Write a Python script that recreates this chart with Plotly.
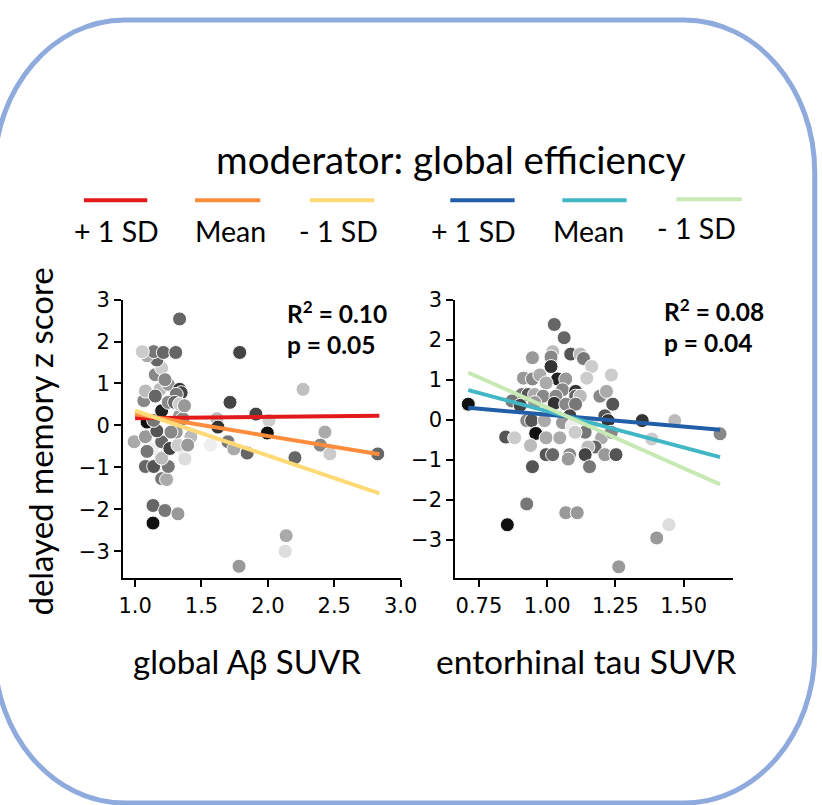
import plotly.graph_objects as go

# ---------------- data ----------------
# left panel: global Abeta SUVR vs delayed memory z score
left_x = [1.335, 1.788, 2.265, 1.715, 1.91, 2.008, 1.617, 1.624, 1.996, 1.568, 1.70, 1.744, 1.844,
          2.43, 2.395, 2.468, 2.204, 2.828, 2.138, 2.131, 1.783, 1.135, 1.225, 1.323, 1.135, 1.20,
          1.237, 1.078, 1.14, 1.25, 1.20, 1.372, 0.993, 1.078, 1.127, 1.09, 1.20, 1.262, 1.323, 1.31,
          1.164, 1.42, 1.396, 1.09, 1.14, 1.20, 1.335, 1.36, 1.066, 1.078, 1.188, 1.25, 1.335, 1.347,
          1.31, 1.25, 1.298, 1.152, 1.335, 1.372, 1.152, 1.20, 1.225, 1.164, 1.078, 1.09, 1.14, 1.213,
          1.306, 1.054, 1.27, 1.375]
left_y = [2.54, 1.74, 0.86, 0.55, 0.27, 0.12, 0.16, -0.04, -0.18, -0.47, -0.39, -0.56, -0.66,
          -0.16, -0.47, -0.68, -0.77, -0.68, -2.63, -3.0, -3.36, -1.91, -2.03, -2.11, -2.33, -1.27,
          -1.29, -0.98, -0.98, -0.98, -0.78, -0.74, -0.39, -0.27, -0.56, -0.62, -0.39, -0.55, -0.47, -0.16,
          -0.13, -0.27, -0.47, 0.08, 0.12, 0.35, 0.23, 0.16, 0.59, 0.82, 0.86, 0.98, 0.86, 0.78,
          0.74, 0.55, 0.55, 0.70, 0.51, 0.47, 1.21, 1.37, 1.09, 1.56, 1.72, 1.66, 1.76, 1.74,
          1.74, 1.76, -0.16, -0.80]
left_shade = [102, 68, 192, 68, 68, 204, 187, 51, 17, 238, 119, 170, 102,
              170, 136, 204, 102, 102, 170, 221, 153, 102, 119, 153, 17, 119,
              170, 102, 85, 119, 187, 221, 170, 153, 238, 119, 102, 68, 204, 153,
              85, 187, 153, 17, 119, 34, 153, 136, 136, 187, 187, 153, 51, 68,
              119, 136, 102, 102, 204, 153, 136, 204, 136, 102, 187, 170, 119, 102,
              102, 204, 136, 221]

# right panel: entorhinal tau SUVR vs delayed memory z score
right_x = [1.026, 1.062, 1.020, 1.086, 1.121, 1.133, 1.014, 0.946, 1.163, 1.014, 1.235, 0.913,
           0.946, 0.973, 1.038, 1.068, 1.145, 0.996, 1.056, 1.104, 1.104, 1.121, 1.193, 1.217,
           0.907, 0.93, 0.954, 0.985, 1.032, 0.871, 0.901, 0.954, 1.026, 1.068, 1.104, 1.24,
           0.711, 1.211, 1.223, 1.348, 1.467, 1.633, 1.383, 1.083, 0.925, 0.943, 0.99, 1.056,
           1.092, 1.163, 1.139, 1.102, 0.958, 0.848, 0.881, 0.996, 1.046, 1.199, 1.235, 1.175,
           1.149, 0.939, 0.996, 1.02, 1.082, 1.139, 1.211, 1.252, 1.077, 1.155, 0.946, 0.925,
           1.068, 1.11, 0.854, 1.446, 1.401, 1.262]
right_y = [2.38, 2.05, 1.70, 1.64, 1.64, 1.53, 1.57, 1.55, 1.33, 1.33, 1.12, 1.04,
           1.02, 1.12, 1.02, 1.02, 1.04, 0.92, 0.75, 0.71, 0.59, 0.59, 0.59, 0.71,
           0.63, 0.63, 0.63, 0.59, 0.59, 0.47, 0.36, 0.43, 0.41, 0.39, 0.39, 0.39,
           0.39, 0.10, -0.02, -0.02, -0.02, -0.35, -0.48, 0.10, -0.02, -0.02, -0.02, -0.07,
           -0.15, -0.07, -0.31, -0.31, -0.34, -0.43, -0.45, -0.45, -0.45, -0.45, -0.31, -0.68,
           -0.68, -0.64, -0.87, -0.87, -0.87, -0.87, -0.87, -0.87, -0.98, -1.17, -1.17, -2.10,
           -2.32, -2.32, -2.62, -2.62, -2.95, -3.67]
right_shade = [102, 102, 187, 85, 187, 119, 136, 153, 204, 51, 204, 153,
               136, 170, 34, 153, 204, 170, 136, 51, 102, 187, 136, 170,
               119, 85, 170, 136, 136, 119, 68, 153, 51, 136, 119, 85,
               17, 85, 51, 51, 187, 136, 204, 68, 136, 85, 170, 153,
               238, 221, 119, 204, 17, 85, 204, 170, 170, 170, 136, 102,
               187, 187, 85, 102, 136, 68, 153, 85, 153, 119, 85, 119,
               153, 153, 17, 221, 153, 153]

# moderated regression lines (value at the ends of each predictor's range)
left_line_x = [1.0, 2.84]
left_line_labels = ["+ 1 SD", "Mean", "- 1 SD"]
left_line_y = [[0.17, 0.23], [0.27, -0.69], [0.35, -1.62]]
left_line_colors = ["#e31a1c", "#fd8d3c", "#fed976"]

right_line_x = [0.711, 1.633]
right_line_labels = ["+ 1 SD", "Mean", "- 1 SD"]
right_line_y = [[0.30, -0.25], [0.74, -0.93], [1.18, -1.61]]
right_line_colors = ["#225ea8", "#41b6c4", "#c7e9b4"]

left_stats = ["R<sup>2</sup> = 0.10", "p = 0.05"]
right_stats = ["R<sup>2</sup> = 0.08", "p = 0.04"]

y_ticks = [-3, -2, -1, 0, 1, 2, 3]
left_xticks = [1.0, 1.5, 2.0, 2.5, 3.0]
right_xticks = [0.75, 1.00, 1.25, 1.50]

# ---------------- figure ----------------
W, H = 822, 805
TEXT_FONT = "Lato"
TICK_FONT = "DejaVu Sans"


def px(x):
    return x / W


def py(y):
    return 1 - y / H


def gray(v):
    return f"rgb({v},{v},{v})"


fig = go.Figure()

fig.add_trace(go.Scatter(x=left_x, y=left_y, mode="markers", xaxis="x", yaxis="y",
                         marker=dict(size=14, color=[gray(v) for v in left_shade],
                                     line=dict(color="white", width=1)),
                         showlegend=False, hoverinfo="skip"))
for ys, c in zip(left_line_y, left_line_colors):
    fig.add_trace(go.Scatter(x=left_line_x, y=ys, mode="lines", xaxis="x", yaxis="y",
                             line=dict(color=c, width=4), showlegend=False, hoverinfo="skip"))

fig.add_trace(go.Scatter(x=right_x, y=right_y, mode="markers", xaxis="x2", yaxis="y2",
                         marker=dict(size=14, color=[gray(v) for v in right_shade],
                                     line=dict(color="white", width=1)),
                         showlegend=False, hoverinfo="skip"))
for ys, c in zip(right_line_y, right_line_colors):
    fig.add_trace(go.Scatter(x=right_line_x, y=ys, mode="lines", xaxis="x2", yaxis="y2",
                             line=dict(color=c, width=4), showlegend=False, hoverinfo="skip"))

axis_common = dict(showline=True, linecolor="black", linewidth=1.8, mirror=False,
                   ticks="outside", ticklen=7, tickwidth=1.6, tickcolor="black",
                   showgrid=False, zeroline=False,
                   tickfont=dict(family=TICK_FONT, size=21, color="black"))

ytext = [("\u2212" + str(-t)) if t < 0 else str(t) for t in y_ticks]

fig.update_layout(
    width=W, height=H,
    margin=dict(l=0, r=0, t=0, b=0, pad=0),
    paper_bgcolor="white", plot_bgcolor="white",
    xaxis=dict(domain=[px(122), px(407)], range=[0.908, 3.0], anchor="y",
               tickvals=left_xticks, ticktext=[f"{v:.1f}" for v in left_xticks], **axis_common),
    yaxis=dict(domain=[py(575), py(292)], range=[-3.65, 3.0], anchor="x",
               tickvals=y_ticks, ticktext=ytext, **axis_common),
    xaxis2=dict(domain=[px(463), px(748)], range=[0.663, 1.68], anchor="y2",
                tickvals=right_xticks, ticktext=[f"{v:.2f}" for v in right_xticks], **axis_common),
    yaxis2=dict(domain=[py(575), py(292)], range=[-3.96, 3.0], anchor="x2",
                tickvals=y_ticks, ticktext=ytext, **axis_common),
)

annotations = []
# main title
annotations.append(dict(x=px(459), y=py(149), xref="paper", yref="paper", showarrow=False,
                        text="moderator: global efficiency", xanchor="center", yanchor="middle",
                        font=dict(family=TEXT_FONT, size=38.5, color="black")))
# legend labels and line samples
legend_centers = [115, 232, 343, 482, 600, 711]
legend_line_x = [(82, 147), (196, 263), (314, 380), (458, 524), (573, 639), (690, 757)]
legend_labels = left_line_labels + right_line_labels
legend_colors = left_line_colors + right_line_colors
legend_label_y = [222, 222, 222, 222, 222, 219]
legend_line_y = [191, 191, 191, 191, 191, 190]
shapes = []
for cx, (x0, x1), lab, col, ly, lly in zip(legend_centers, legend_line_x, legend_labels,
                                           legend_colors, legend_label_y, legend_line_y):
    annotations.append(dict(x=px(cx), y=py(ly), xref="paper", yref="paper", showarrow=False,
                            text=lab, xanchor="center", yanchor="middle",
                            font=dict(family=TEXT_FONT, size=28.5, color="black")))
    shapes.append(dict(type="line", xref="paper", yref="paper", x0=px(x0), x1=px(x1),
                       y0=py(lly), y1=py(lly), line=dict(color=col, width=4)))

# stats
for (x0, ys, texts) in [(288, [305, 338], left_stats), (675, [303, 336], right_stats)]:
    for yy, t in zip(ys, texts):
        annotations.append(dict(x=px(x0), y=py(yy), xref="paper", yref="paper", showarrow=False,
                                text=f"<b>{t}</b>", xanchor="left", yanchor="middle",
                                font=dict(family=TEXT_FONT, size=24.5, color="black")))

# axis titles
annotations.append(dict(x=px(249), y=py(659), xref="paper", yref="paper", showarrow=False,
                        text="global A\u03b2 SUVR", xanchor="center", yanchor="middle",
                        font=dict(family=TEXT_FONT, size=33, color="black")))
annotations.append(dict(x=px(597), y=py(659), xref="paper", yref="paper", showarrow=False,
                        text="entorhinal tau SUVR", xanchor="center", yanchor="middle",
                        font=dict(family=TEXT_FONT, size=33.5, color="black")))
annotations.append(dict(x=px(36), y=py(436), xref="paper", yref="paper", showarrow=False,
                        text="delayed memory z score", textangle=-90,
                        xanchor="center", yanchor="middle",
                        font=dict(family=TEXT_FONT, size=33, color="black")))

# rounded frame
L, R, T, B = -10, 832, 8, 803
rx, ry, k = 134, 155, 0.5523


def P(x, y):
    return f"{px(x):.5f},{py(y):.5f}"


path = (f"M {P(L + rx, T)} L {P(R - rx, T)} "
        f"C {P(R - rx + k * rx, T)} {P(R, T + ry - k * ry)} {P(R, T + ry)} "
        f"L {P(R, B - ry)} "
        f"C {P(R, B - ry + k * ry)} {P(R - rx + k * rx, B)} {P(R - rx, B)} "
        f"L {P(L + rx, B)} "
        f"C {P(L + rx - k * rx, B)} {P(L, B - ry + k * ry)} {P(L, B - ry)} "
        f"L {P(L, T + ry)} "
        f"C {P(L, T + ry - k * ry)} {P(L + rx - k * rx, T)} {P(L + rx, T)} Z")
shapes.append(dict(type="path", xref="paper", yref="paper", path=path,
                   line=dict(color="#8faadc", width=5), layer="below"))

fig.update_layout(annotations=annotations, shapes=shapes)

fig.write_html("out.html", config={"displayModeBar": False},
               post_script="document.body.style.margin='0';")
